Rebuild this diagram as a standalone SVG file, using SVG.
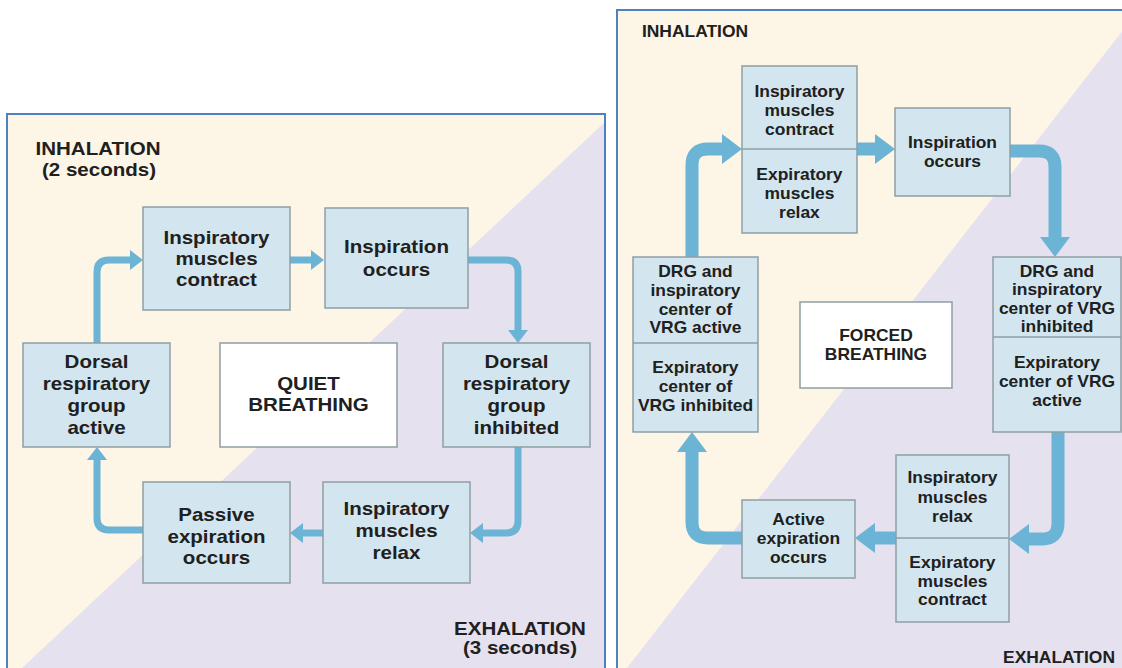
<svg xmlns="http://www.w3.org/2000/svg" width="1122" height="668" viewBox="0 0 1122 668">
  <style>
    .beige { fill: #fdf5e5; }
    .lilac { fill: #e5e1ef; }
    .frame { fill: none; stroke: #4f81bd; stroke-width: 2; }
    .box { fill: #d3e6ef; stroke: #8f9ea4; stroke-width: 1.5; }
    .title { fill: #ffffff; stroke: #8f9ea4; stroke-width: 1.5; }
    .div { stroke: #8f9ea4; stroke-width: 1.5; }
    .flowS { fill: none; stroke: #6cb4d6; stroke-width: 7; stroke-linejoin: round; }
    .flowL { fill: none; stroke: #6cb4d6; stroke-width: 13; stroke-linejoin: round; }
    text { font-family: "Liberation Sans", Arial, sans-serif; font-weight: bold; fill: #202020;
           text-anchor: middle; transform-box: fill-box; transform-origin: center; }
    .q { font-size: 18px; transform: scaleX(1.14); }
    .f { font-size: 16px; transform: scaleX(1.09); }
  </style>
  <defs>
    <marker id="headS" markerUnits="userSpaceOnUse" viewBox="0 -10 13 20" markerWidth="13" markerHeight="20" refX="0" refY="0" orient="auto">
      <path d="M0,-10 L13,0 L0,10 Z" fill="#6cb4d6"/>
    </marker>
    <marker id="headL" markerUnits="userSpaceOnUse" viewBox="0 -15 20 30" markerWidth="20" markerHeight="30" refX="0" refY="0" orient="auto">
      <path d="M0,-15 L20,0 L0,15 Z" fill="#6cb4d6"/>
    </marker>
  </defs>

  <rect width="1122" height="668" fill="#ffffff"/>

  <!-- Quiet breathing panel background -->
  <g id="panel-quiet">
    <rect class="beige" x="7" y="114" width="598" height="560"/>
    <polygon class="lilac" points="605,122 605,668 22,668"/>
    <path class="frame" d="M7,670 V114 H605 V670"/>
  </g>

  <!-- Forced breathing panel background -->
  <g id="panel-forced">
    <rect class="beige" x="617" y="10" width="510" height="664"/>
    <polygon class="lilac" points="1124,29 1124,668 627,668"/>
    <path class="frame" d="M617,670 V10 H1124"/>
  </g>

  <!-- Connectors -->
  <g id="connectors">
    <path class="flowS" d="M97,343 V272 Q97,260 109,260 H130" marker-end="url(#headS)"/>
    <path class="flowS" d="M290,260 H311" marker-end="url(#headS)"/>
    <path class="flowS" d="M468,260 H506 Q518,260 518,272 V330" marker-end="url(#headS)"/>
    <path class="flowS" d="M518,447 V521 Q518,533 506,533 H483" marker-end="url(#headS)"/>
    <path class="flowS" d="M323,533 H303" marker-end="url(#headS)"/>
    <path class="flowS" d="M143,530 H109 Q97,530 97,518 V460" marker-end="url(#headS)"/>

    <path class="flowL" d="M692,257 V165 Q692,149 708,149 H722" marker-end="url(#headL)"/>
    <path class="flowL" d="M857,149 H875" marker-end="url(#headL)"/>
    <path class="flowL" d="M1010,151 H1039 Q1055,151 1055,167 V237" marker-end="url(#headL)"/>
    <path class="flowL" d="M1058,432 V523 Q1058,539 1042,539 H1029" marker-end="url(#headL)"/>
    <path class="flowL" d="M896,538 H875" marker-end="url(#headL)"/>
    <path class="flowL" d="M742,538 H708 Q692,538 692,522 V452" marker-end="url(#headL)"/>
  </g>

  <!-- Quiet breathing labels -->
  <g id="label-inhalation-quiet">
    <text class="q" x="98" y="155">INHALATION</text>
    <text class="q" x="99" y="176">(2 seconds)</text>
  </g>
  <g id="label-exhalation-quiet">
    <text class="q" x="520" y="635">EXHALATION</text>
    <text class="q" x="520" y="654">(3 seconds)</text>
  </g>

  <!-- Quiet breathing nodes -->
  <g id="q-insp-contract">
    <rect class="box" x="143" y="207" width="147" height="103"/>
    <text class="q" x="216.5" y="244">Inspiratory</text>
    <text class="q" x="216.5" y="265">muscles</text>
    <text class="q" x="216.5" y="286">contract</text>
  </g>
  <g id="q-insp-occurs">
    <rect class="box" x="325" y="208" width="143" height="100"/>
    <text class="q" x="396.5" y="253">Inspiration</text>
    <text class="q" x="396.5" y="276">occurs</text>
  </g>
  <g id="q-drg-inhibited">
    <rect class="box" x="443" y="343" width="147" height="104"/>
    <text class="q" x="516.5" y="368">Dorsal</text>
    <text class="q" x="516.5" y="390">respiratory</text>
    <text class="q" x="516.5" y="412">group</text>
    <text class="q" x="516.5" y="434">inhibited</text>
  </g>
  <g id="q-drg-active">
    <rect class="box" x="23" y="343" width="147" height="104"/>
    <text class="q" x="96.5" y="368">Dorsal</text>
    <text class="q" x="96.5" y="390">respiratory</text>
    <text class="q" x="96.5" y="412">group</text>
    <text class="q" x="96.5" y="434">active</text>
  </g>
  <g id="q-title">
    <rect class="title" x="220" y="343" width="177" height="104"/>
    <text class="q" x="308.5" y="390">QUIET</text>
    <text class="q" x="308.5" y="411">BREATHING</text>
  </g>
  <g id="q-passive-exp">
    <rect class="box" x="143" y="482" width="147" height="101"/>
    <text class="q" x="216.5" y="521">Passive</text>
    <text class="q" x="216.5" y="543">expiration</text>
    <text class="q" x="216.5" y="564">occurs</text>
  </g>
  <g id="q-insp-relax">
    <rect class="box" x="323" y="482" width="147" height="101"/>
    <text class="q" x="396.5" y="515">Inspiratory</text>
    <text class="q" x="396.5" y="537">muscles</text>
    <text class="q" x="396.5" y="559">relax</text>
  </g>

  <!-- Forced breathing labels -->
  <g id="label-inhalation-forced">
    <text class="f" x="695" y="37">INHALATION</text>
  </g>
  <g id="label-exhalation-forced">
    <text class="f" x="1059" y="663">EXHALATION</text>
  </g>

  <!-- Forced breathing nodes -->
  <g id="f-muscles-in">
    <rect class="box" x="742" y="66" width="115" height="167"/>
    <line class="div" x1="742" y1="149" x2="857" y2="149"/>
    <text class="f" x="799.5" y="97">Inspiratory</text>
    <text class="f" x="799.5" y="116">muscles</text>
    <text class="f" x="799.5" y="135">contract</text>
    <text class="f" x="799.5" y="180">Expiratory</text>
    <text class="f" x="799.5" y="199">muscles</text>
    <text class="f" x="799.5" y="218">relax</text>
  </g>
  <g id="f-insp-occurs">
    <rect class="box" x="895" y="108" width="115" height="88"/>
    <text class="f" x="952.5" y="148">Inspiration</text>
    <text class="f" x="952.5" y="167">occurs</text>
  </g>
  <g id="f-centers-ex">
    <rect class="box" x="993" y="257" width="128" height="175"/>
    <line class="div" x1="993" y1="337" x2="1121" y2="337"/>
    <text class="f" x="1057" y="277">DRG and</text>
    <text class="f" x="1057" y="295.5">inspiratory</text>
    <text class="f" x="1057" y="314">center of VRG</text>
    <text class="f" x="1057" y="332">inhibited</text>
    <text class="f" x="1057" y="368">Expiratory</text>
    <text class="f" x="1057" y="387">center of VRG</text>
    <text class="f" x="1057" y="406">active</text>
  </g>
  <g id="f-title">
    <rect class="title" x="800" y="302" width="152" height="86"/>
    <text class="f" x="876" y="341">FORCED</text>
    <text class="f" x="876" y="360">BREATHING</text>
  </g>
  <g id="f-centers-in">
    <rect class="box" x="633" y="257" width="125" height="175"/>
    <line class="div" x1="633" y1="343" x2="758" y2="343"/>
    <text class="f" x="695.5" y="277">DRG and</text>
    <text class="f" x="695.5" y="296">inspiratory</text>
    <text class="f" x="695.5" y="315">center of</text>
    <text class="f" x="695.5" y="333">VRG active</text>
    <text class="f" x="695.5" y="373">Expiratory</text>
    <text class="f" x="695.5" y="392">center of</text>
    <text class="f" x="695.5" y="411">VRG inhibited</text>
  </g>
  <g id="f-active-exp">
    <rect class="box" x="742" y="500" width="113" height="78"/>
    <text class="f" x="798.5" y="525">Active</text>
    <text class="f" x="798.5" y="544">expiration</text>
    <text class="f" x="798.5" y="563">occurs</text>
  </g>
  <g id="f-muscles-ex">
    <rect class="box" x="896" y="455" width="113" height="167"/>
    <line class="div" x1="896" y1="538" x2="1009" y2="538"/>
    <text class="f" x="952.5" y="483">Inspiratory</text>
    <text class="f" x="952.5" y="503">muscles</text>
    <text class="f" x="952.5" y="522">relax</text>
    <text class="f" x="952.5" y="568">Expiratory</text>
    <text class="f" x="952.5" y="587">muscles</text>
    <text class="f" x="952.5" y="605">contract</text>
  </g>
</svg>
